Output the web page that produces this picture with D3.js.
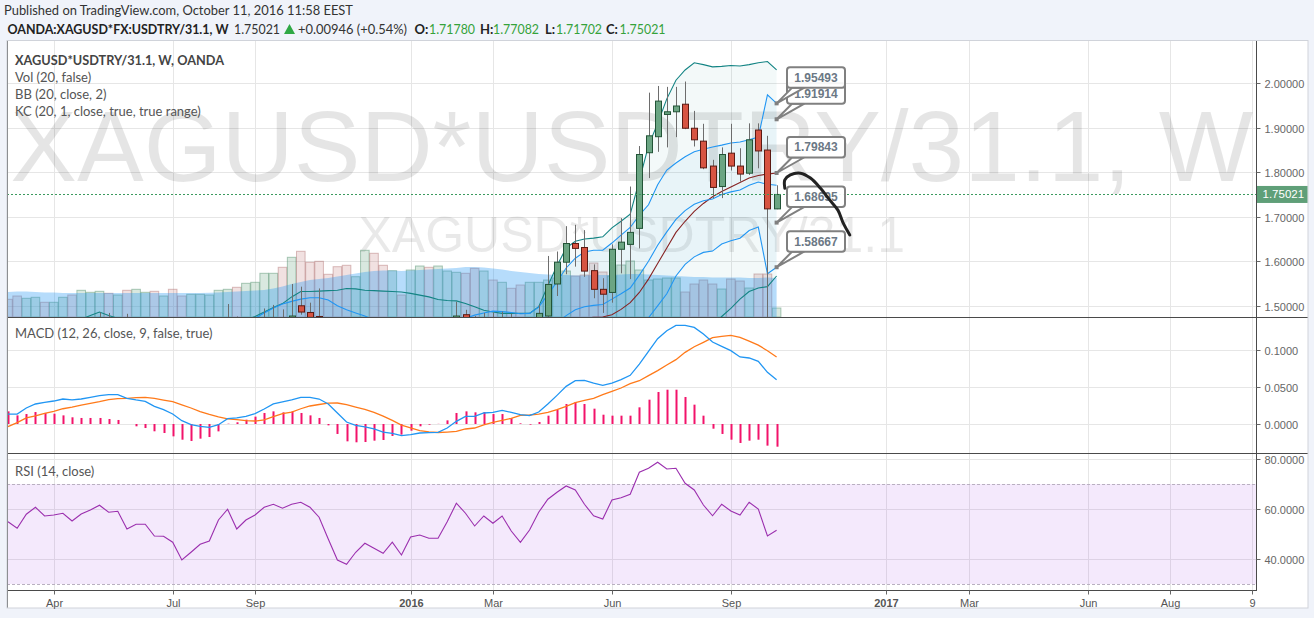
<!DOCTYPE html>
<html><head><meta charset="utf-8">
<script src="https://d3js.org/d3.v7.min.js"></script>
<style>
html,body{margin:0;padding:0;background:#f0f3fa;}
svg{display:block;}
</style></head>
<body>
<svg id="chart" width="1314" height="618"></svg>
<script>
// ---------------- DATA ----------------
const weeks = ["2015-03-02","2015-03-09","2015-03-16","2015-03-23","2015-03-30","2015-04-06","2015-04-13","2015-04-20","2015-04-27","2015-05-04",
"2015-05-11","2015-05-18","2015-05-25","2015-06-01","2015-06-08","2015-06-15","2015-06-22","2015-06-29","2015-07-06","2015-07-13",
"2015-07-20","2015-07-27","2015-08-03","2015-08-10","2015-08-17","2015-08-24","2015-08-31","2015-09-07","2015-09-14","2015-09-21",
"2015-09-28","2015-10-05","2015-10-12","2015-10-19","2015-10-26","2015-11-02","2015-11-09","2015-11-16","2015-11-23","2015-11-30",
"2015-12-07","2015-12-14","2015-12-21","2015-12-28","2016-01-04","2016-01-11","2016-01-18","2016-01-25","2016-02-01","2016-02-08",
"2016-02-15","2016-02-22","2016-02-29","2016-03-07","2016-03-14","2016-03-21","2016-03-28","2016-04-04","2016-04-11","2016-04-18",
"2016-04-25","2016-05-02","2016-05-09","2016-05-16","2016-05-23","2016-05-30","2016-06-06","2016-06-13","2016-06-20","2016-06-27",
"2016-07-04","2016-07-11","2016-07-18","2016-07-25","2016-08-01","2016-08-08","2016-08-15","2016-08-22","2016-08-29","2016-09-05",
"2016-09-12","2016-09-19","2016-09-26","2016-10-03","2016-10-10"];

const open = [1.43,1.42,1.41,1.435,1.45,1.44,1.442,1.446,1.435,1.447,
1.455,1.465,1.455,1.457,1.425,1.432,1.432,1.41,1.41,1.40,
1.36,1.37,1.385,1.39,1.43,1.455,1.42,1.435,1.445,1.46,
1.468,1.462,1.500,1.485,1.476,1.455,1.41,1.36,1.35,1.37,
1.385,1.378,1.37,1.385,1.365,1.39,1.393,1.385,1.39,1.43,
1.48,1.465,1.445,1.46,1.45,1.462,1.44,1.42,1.44,1.477,
1.549,1.598,1.640,1.631,1.579,1.537,1.530,1.627,1.638,1.674,
1.844,1.880,1.930,1.936,1.953,1.899,1.870,1.814,1.768,1.843,
1.814,1.798,1.895,1.850,1.7178];
const high = [1.44,1.43,1.445,1.46,1.455,1.455,1.46,1.455,1.46,1.47,
1.485,1.484,1.47,1.482,1.445,1.45,1.44,1.425,1.42,1.405,
1.38,1.39,1.40,1.44,1.504,1.476,1.45,1.46,1.494,1.502,
1.492,1.549,1.543,1.507,1.539,1.47,1.42,1.375,1.38,1.40,
1.395,1.39,1.39,1.39,1.40,1.40,1.40,1.40,1.44,1.509,
1.491,1.477,1.484,1.485,1.487,1.482,1.455,1.45,1.502,1.612,
1.622,1.679,1.682,1.670,1.593,1.562,1.638,1.697,1.768,1.859,
1.979,1.994,1.992,1.992,2.004,1.938,1.909,1.828,1.856,1.909,
1.854,1.910,1.910,1.882,1.77082];
const low = [1.40,1.39,1.405,1.43,1.43,1.43,1.435,1.425,1.43,1.44,
1.45,1.45,1.445,1.42,1.415,1.42,1.405,1.40,1.39,1.355,
1.35,1.36,1.37,1.385,1.425,1.41,1.41,1.425,1.44,1.45,
1.445,1.455,1.48,1.465,1.45,1.40,1.355,1.34,1.345,1.36,
1.37,1.36,1.365,1.36,1.36,1.38,1.38,1.38,1.385,1.425,
1.455,1.435,1.44,1.44,1.445,1.435,1.415,1.41,1.435,1.47,
1.522,1.571,1.588,1.565,1.517,1.484,1.507,1.573,1.560,1.629,
1.787,1.846,1.856,1.879,1.897,1.858,1.807,1.742,1.742,1.804,
1.779,1.794,1.809,1.30,1.71702];
const close = [1.42,1.41,1.435,1.45,1.44,1.442,1.446,1.435,1.447,1.455,
1.465,1.455,1.457,1.425,1.432,1.432,1.41,1.41,1.40,1.36,
1.37,1.385,1.39,1.43,1.455,1.42,1.435,1.445,1.46,1.468,
1.462,1.477,1.486,1.474,1.455,1.41,1.36,1.35,1.37,1.385,
1.378,1.37,1.385,1.365,1.39,1.393,1.389,1.389,1.43,1.477,
1.465,1.445,1.46,1.45,1.462,1.44,1.42,1.44,1.483,1.548,
1.598,1.640,1.629,1.578,1.537,1.526,1.627,1.643,1.665,1.840,
1.882,1.960,1.936,1.949,1.899,1.873,1.810,1.766,1.840,1.814,
1.796,1.873,1.848,1.7178,1.75021];
const volume = [17700,21000,18700,19700,14700,14700,19700,22000,26700,24700,
25700,23700,22000,26700,27700,24700,25700,21000,27700,21000,
22700,22700,22000,26700,27700,29700,33700,34700,43700,43700,
49700,59700,65700,54700,55700,42700,50300,51700,40300,66700,
63700,51700,46300,22000,47000,51000,49700,51000,46000,44700,
43700,48700,46000,37000,34700,28700,32000,34700,34700,37000,
39000,46000,41000,42000,54000,45000,41000,52000,56000,47000,
37000,38000,39000,39000,25000,33000,37000,33000,28000,38000,
36000,29000,43000,43000,9000];
const volMA = [25000,25500,25500,25000,24500,24500,24000,24000,24000,24000,
24000,24000,24000,24000,24000,24000,24000,24000,24000,24000,
24000,24000,24300,24500,25000,25500,26000,26500,27000,28500,
30500,33000,35000,37000,38000,39000,40500,42000,43500,45000,
46000,46500,46500,46000,46500,47000,47500,48000,48500,49000,
50000,50000,49500,48500,47500,46000,45000,44000,43000,42500,
42000,42000,41500,41500,42000,42000,42000,42500,43000,43000,
42500,42000,41500,41000,40500,40000,40000,39500,39500,39500,
39500,39000,39000,39500,39000];
const bbUpper = [1.46,1.458,1.46,1.465,1.466,1.466,1.468,1.468,1.47,1.478,
1.486,1.478,1.472,1.466,1.462,1.46,1.46,1.458,1.458,1.46,
1.462,1.462,1.462,1.462,1.466,1.466,1.468,1.476,1.486,1.496,
1.505,1.52,1.532,1.532,1.533,1.534,1.535,1.539,1.538,1.535,
1.534,1.533,1.532,1.531,1.528,1.524,1.52,1.514,1.512,1.511,
1.505,1.498,1.49,1.486,1.483,1.483,1.483,1.483,1.498,1.545,
1.59,1.63,1.645,1.65,1.652,1.655,1.675,1.69,1.706,1.782,
1.86,1.91,1.965,2.007,2.03,2.046,2.042,2.037,2.038,2.04,
2.039,2.042,2.046,2.049,2.03];
const bbBasis = [1.43,1.432,1.433,1.435,1.436,1.437,1.438,1.438,1.439,1.44,
1.442,1.443,1.443,1.441,1.44,1.439,1.437,1.435,1.432,1.427,
1.422,1.418,1.414,1.413,1.414,1.412,1.412,1.413,1.416,1.42,
1.425,1.431,1.437,1.441,1.444,1.443,1.44,1.435,1.43,1.427,
1.424,1.42,1.417,1.413,1.41,1.406,1.402,1.398,1.397,1.399,
1.403,1.406,1.41,1.414,1.418,1.421,1.423,1.426,1.432,1.44,
1.45,1.46,1.468,1.472,1.474,1.475,1.48,1.492,1.507,1.53,
1.56,1.595,1.63,1.665,1.69,1.712,1.73,1.745,1.757,1.767,
1.777,1.787,1.793,1.796,1.79843];
const bbLower = [1.40,1.406,1.406,1.405,1.406,1.408,1.408,1.408,1.408,1.402,
1.398,1.408,1.414,1.416,1.418,1.418,1.414,1.412,1.406,1.394,
1.382,1.374,1.366,1.364,1.362,1.358,1.356,1.35,1.346,1.344,
1.345,1.342,1.342,1.35,1.355,1.352,1.345,1.331,1.322,1.319,
1.314,1.307,1.302,1.295,1.292,1.288,1.284,1.282,1.282,1.287,
1.301,1.314,1.33,1.342,1.353,1.359,1.363,1.369,1.366,1.335,
1.31,1.29,1.291,1.294,1.296,1.295,1.285,1.294,1.308,1.278,
1.26,1.28,1.295,1.323,1.35,1.378,1.418,1.453,1.476,1.494,
1.515,1.532,1.54,1.543,1.567];
const kcUpper = [1.46,1.455,1.46,1.465,1.465,1.465,1.468,1.465,1.468,1.47,
1.474,1.472,1.47,1.465,1.462,1.46,1.455,1.452,1.448,1.44,
1.436,1.436,1.437,1.445,1.46,1.462,1.465,1.472,1.484,1.495,
1.504,1.51,1.515,1.518,1.518,1.513,1.50,1.491,1.484,1.477,
1.468,1.462,1.458,1.452,1.45,1.45,1.45,1.45,1.455,1.468,
1.472,1.479,1.484,1.488,1.487,1.485,1.482,1.483,1.497,1.525,
1.554,1.585,1.607,1.621,1.625,1.625,1.641,1.659,1.676,1.704,
1.727,1.772,1.805,1.821,1.835,1.846,1.852,1.857,1.861,1.866,
1.868,1.873,1.879,1.974,1.95493];
const kcMid = [1.415,1.415,1.417,1.42,1.422,1.424,1.426,1.427,1.429,1.431,
1.434,1.436,1.438,1.437,1.436,1.436,1.433,1.431,1.428,1.421,
1.416,1.413,1.411,1.413,1.417,1.418,1.42,1.423,1.427,1.432,
1.435,1.44,1.445,1.448,1.449,1.445,1.436,1.427,1.421,1.417,
1.413,1.409,1.407,1.403,1.402,1.402,1.401,1.40,1.404,1.412,
1.418,1.421,1.425,1.428,1.431,1.432,1.431,1.432,1.437,1.448,
1.462,1.478,1.491,1.498,1.501,1.503,1.515,1.527,1.54,1.569,
1.60,1.636,1.666,1.694,1.714,1.728,1.736,1.74,1.75,1.756,
1.76,1.771,1.778,1.773,1.7708];
const kcLower = [1.37,1.375,1.374,1.375,1.379,1.383,1.384,1.389,1.39,1.392,
1.394,1.40,1.406,1.409,1.41,1.412,1.411,1.41,1.408,1.402,
1.396,1.39,1.385,1.381,1.374,1.374,1.375,1.374,1.37,1.369,
1.366,1.37,1.375,1.378,1.38,1.377,1.372,1.363,1.358,1.357,
1.358,1.356,1.356,1.354,1.354,1.354,1.352,1.35,1.353,1.356,
1.364,1.363,1.366,1.368,1.375,1.379,1.38,1.381,1.377,1.371,
1.37,1.371,1.375,1.375,1.377,1.381,1.389,1.395,1.404,1.434,
1.473,1.50,1.527,1.567,1.593,1.61,1.62,1.623,1.639,1.646,
1.652,1.669,1.677,1.572,1.58667];
const macd = [0.0134,0.0134,0.0215,0.0269,0.0291,0.0309,0.0336,0.0323,0.0336,0.0358,
0.0381,0.0394,0.0394,0.0345,0.0323,0.0305,0.0237,0.0193,0.0134,0.0045,
-0.0009,-0.0031,-0.0045,-0.0009,0.0072,0.0081,0.0103,0.0139,0.0202,0.0269,
0.0296,0.0323,0.0358,0.0358,0.0336,0.0269,0.0148,0.0027,-0.0018,-0.0040,
-0.0067,-0.0108,-0.0125,-0.0157,-0.0143,-0.0121,-0.0116,-0.0112,-0.0054,0.0036,
0.0103,0.0103,0.0148,0.0157,0.0184,0.0157,0.0125,0.0112,0.0161,0.0269,
0.0385,0.0506,0.0582,0.0587,0.0551,0.0520,0.0551,0.0596,0.0654,0.0806,
0.0977,0.1147,0.1254,0.1326,0.1326,0.1299,0.1210,0.1102,0.1044,0.0986,
0.0901,0.0887,0.0842,0.0694,0.0596];
const signal = [-0.0036,0.0018,0.0081,0.0108,0.0143,0.0170,0.0205,0.0228,0.0255,0.0277,
0.0300,0.0327,0.0340,0.0345,0.0354,0.0359,0.0345,0.0322,0.0300,0.0258,
0.0215,0.0166,0.0128,0.0095,0.0068,0.0058,0.0045,0.0040,0.0054,0.0099,
0.0139,0.0160,0.0205,0.0242,0.0262,0.0280,0.0282,0.0260,0.0228,0.0198,
0.0157,0.0107,0.0048,-0.0014,-0.0053,-0.0090,-0.0107,-0.0114,-0.0108,-0.0100,
-0.0067,-0.0054,-0.0013,0.0023,0.0050,0.0076,0.0116,0.0121,0.0134,0.0157,
0.0192,0.0237,0.0286,0.0318,0.0345,0.0395,0.0439,0.0484,0.0542,0.0582,
0.0650,0.0717,0.0793,0.0865,0.0963,0.1039,0.1098,0.1160,0.1178,0.1190,
0.1165,0.1115,0.1060,0.0985,0.0901];
const hist = [0.0170,0.0116,0.0134,0.0161,0.0148,0.0139,0.0116,0.0090,0.0081,0.0081,
0.0081,0.0067,0.0054,0.0000,-0.0031,-0.0054,-0.0098,-0.0121,-0.0166,-0.0211,
-0.0228,-0.0197,-0.0175,-0.0099,0.0004,0.0023,0.0058,0.0099,0.0148,0.0170,
0.0157,0.0170,0.0148,0.0116,0.0081,-0.0018,-0.0134,-0.0233,-0.0246,-0.0242,
-0.0224,-0.0215,-0.0161,-0.0143,-0.0090,-0.0031,-0.0009,0.0002,0.0049,0.0148,
0.0170,0.0157,0.0161,0.0134,0.0134,0.0081,0.0009,-0.0009,0.0027,0.0112,
0.0193,0.0269,0.0296,0.0269,0.0206,0.0125,0.0112,0.0112,0.0112,0.0224,
0.0327,0.0430,0.0461,0.0461,0.0363,0.0260,0.0112,-0.0063,-0.0134,-0.0211,
-0.0255,-0.0224,-0.0211,-0.0291,-0.0305];
const rsi = [54.9,52.3,57.9,60.7,57.2,57.6,58.3,55.2,58,59.6,
61.5,58.7,59.1,52,53.9,53.9,49.2,49.1,46.7,39.6,
42.7,45.9,47.2,55.6,59.9,52,55.6,57.6,60.7,61.9,
60.3,61.9,62.7,60.7,56.7,48,39.6,37.9,42.7,46.3,
44.3,42.3,46.7,41.6,48.8,49.6,48.3,48.3,54.9,62.3,
58.3,53.2,57.2,54.3,57.2,51.2,46.7,51.6,58.7,63.9,
66.7,69.2,67.6,61.9,57.3,56,63.6,64.5,65.9,74.7,
76.3,78.7,76,76.3,70.3,67.6,61.6,57.3,61.9,59.2,
57.6,62.7,60,49.2,51.5];

const xTickIdx = [5,18,27,44,53,66,79,96,105,118,127,136];
const xTickLabels = ["Apr","Jul","Sep","2016","Mar","Jun","Sep","2017","Mar","Jun","Aug","9"];
const priceTicks = [1.5,1.6,1.7,1.8,1.9,2.0];
const macdTicks = [0,0.05,0.1];
const rsiTicks = [40,60,80];
const lastPrice = 1.75021;
const calloutValues = [1.58667,1.68695,1.79843,1.91914,1.95493];
const brushIdx = [84.9,84.9,85.5,86.6,87.7,88.8,89.8,90.7,91.3,92.0];
const brushPrice = [1.764,1.783,1.794,1.798,1.787,1.764,1.738,1.715,1.685,1.659];

// ---------------- LAYOUT ----------------
const svg = d3.select("#chart");
const AXF = "'Liberation Sans', Arial, sans-serif";
const UIF = "Lato, 'Open Sans', sans-serif";
const PL = 7, PR = 1256.5, AR = 1308;
const T0 = 40.5, B0 = 317.5, T1 = 317.5, B1 = 453.5, T2 = 453.5, B2 = 590.5, TB = 608;
const n = close.length;

const x = d3.scaleLinear().domain([0, n - 1]).range([8, 776.6]);
const y = d3.scaleLinear().domain([1.5, 2.0]).range([305.8, 83.3]);
const yV = d3.scaleLinear().domain([0, 100000]).range([317, 217]);
const yM = d3.scaleLinear().domain([0, 0.1]).range([424, 349.6]);
const yR = d3.scaleLinear().domain([40, 60]).range([559, 509]);

const defs = svg.append("defs");
function clip(id, y0, y1) {
  defs.append("clipPath").attr("id", id).append("rect")
    .attr("x", PL).attr("y", y0).attr("width", PR - PL).attr("height", y1 - y0);
}
clip("cMain", T0, B0); clip("cMacd", T1, B1); clip("cRsi", T2, B2);

// chart background
svg.append("rect").attr("x", PL).attr("y", T0).attr("width", AR - PL).attr("height", TB - T0).attr("fill", "#ffffff");

// header
const hdr = svg.append("g").attr("font-family", UIF).attr("font-size", 13).attr("fill", "#333");
hdr.append("text").attr("x", 4).attr("y", 15).attr("textLength", 349).attr("lengthAdjust", "spacingAndGlyphs")
  .text("Published on TradingView.com, October 11, 2016 11:58 EEST");
hdr.append("text").attr("x", 7.5).attr("y", 34).attr("font-weight", "bold").attr("fill", "#222")
  .attr("textLength", 221).attr("lengthAdjust", "spacingAndGlyphs").text("OANDA:XAGUSD*FX:USDTRY/31.1, W");
hdr.append("text").attr("x", 234).attr("y", 34).attr("textLength", 46).attr("lengthAdjust", "spacingAndGlyphs").text(d3.format(".5f")(lastPrice));
hdr.append("path").attr("d", "M284,34 L295,34 L289.5,24 Z").attr("fill", "#2fa845");
hdr.append("text").attr("x", 298).attr("y", 34).attr("textLength", 109).attr("lengthAdjust", "spacingAndGlyphs").text("+0.00946 (+0.54%)");
const ohlcLbl = [["O:", 414.6, 429, open[n-1]], ["H:", 480, 493, high[n-1]], ["L:", 545, 556, low[n-1]], ["C:", 606, 619.5, close[n-1]]];
ohlcLbl.forEach(([k, xk, xv, v]) => {
  hdr.append("text").attr("x", xk).attr("y", 34).attr("font-weight", "bold").attr("fill", "#222").text(k);
  hdr.append("text").attr("x", xv).attr("y", 34).attr("fill", "#35a23a")
    .attr("textLength", 46).attr("lengthAdjust", "spacingAndGlyphs").text(d3.format(".5f")(v));
});

// grid
const grid = svg.append("g").attr("stroke", "#e6e6e6").attr("stroke-width", 1).attr("shape-rendering", "crispEdges");
xTickIdx.forEach(i => {
  const xx = Math.round(x(i)) + 0.5;
  if (xx < PR) grid.append("line").attr("x1", xx).attr("x2", xx).attr("y1", T0).attr("y2", B2);
});
priceTicks.forEach(v => grid.append("line").attr("x1", PL).attr("x2", PR).attr("y1", Math.round(y(v)) + 0.5).attr("y2", Math.round(y(v)) + 0.5));
macdTicks.forEach(v => grid.append("line").attr("x1", PL).attr("x2", PR).attr("y1", Math.round(yM(v)) + 0.5).attr("y2", Math.round(yM(v)) + 0.5));
rsiTicks.forEach(v => grid.append("line").attr("x1", PL).attr("x2", PR).attr("y1", Math.round(yR(v)) + 0.5).attr("y2", Math.round(yR(v)) + 0.5));

// watermark
const wm = svg.append("g").attr("clip-path", "url(#cMain)").attr("font-family", AXF).attr("text-anchor", "middle");
wm.append("text").attr("x", (PL + PR) / 2).attr("y", 181).attr("font-size", 100).attr("fill", "rgba(0,0,0,0.1)").text("XAGUSD*USDTRY/31.1, W");
wm.append("text").attr("x", (PL + PR) / 2).attr("y", 252).attr("font-size", 50).attr("fill", "rgba(0,0,0,0.085)").text("XAGUSD*USDTRY/31.1");

// ---------- main pane ----------
const gM = svg.append("g").attr("clip-path", "url(#cMain)");
const up = i => close[i] >= open[i];
// volume
gM.append("g").selectAll("rect").data(volume).join("rect")
  .attr("x", (d, i) => x(i) - 4.3).attr("width", 8.6)
  .attr("y", d => yV(d)).attr("height", d => yV(0) - yV(d))
  .attr("fill", (d, i) => up(i) ? "rgba(107,165,131,0.26)" : "rgba(186,104,104,0.2)")
  .attr("stroke", (d, i) => up(i) ? "rgba(90,150,115,0.5)" : "rgba(170,100,100,0.42)")
  .attr("stroke-width", 1);
gM.append("path").datum(volMA)
  .attr("d", d3.area().x((d, i) => x(i)).y0(yV(0)).y1(d => yV(d)))
  .attr("fill", "rgba(33,150,243,0.33)");

// band fills
const bandArea = (lo, hi) => d3.area().x((d, i) => x(i)).y0((d, i) => y(lo[i])).y1((d, i) => y(hi[i]));
gM.append("path").datum(close).attr("d", bandArea(bbLower, bbUpper)).attr("fill", "rgba(19,132,132,0.05)");
gM.append("path").datum(close).attr("d", bandArea(kcLower, kcUpper)).attr("fill", "rgba(33,150,243,0.05)");
const lineOf = arr => d3.line().x((d, i) => x(i)).y(d => y(d))(arr);
[[bbUpper, "#138484"], [bbLower, "#138484"], [bbBasis, "#872323"],
 [kcUpper, "#2196f3"], [kcMid, "#2196f3"], [kcLower, "#2196f3"]].forEach(([a, c]) =>
  gM.append("path").attr("d", lineOf(a)).attr("fill", "none").attr("stroke", c).attr("stroke-width", 1.1));

// candles
const cg = gM.append("g");
cg.selectAll("line").data(close).join("line")
  .attr("x1", (d, i) => Math.round(x(i)) + 0.5).attr("x2", (d, i) => Math.round(x(i)) + 0.5)
  .attr("y1", (d, i) => y(high[i])).attr("y2", (d, i) => y(low[i]))
  .attr("stroke", "#6d6d6d").attr("stroke-width", 1);
cg.selectAll("rect").data(close).join("rect")
  .attr("x", (d, i) => Math.round(x(i)) - 2.5).attr("width", 6)
  .attr("y", (d, i) => y(Math.max(open[i], close[i])))
  .attr("height", (d, i) => Math.max(1, Math.abs(y(open[i]) - y(close[i]))))
  .attr("fill", (d, i) => up(i) ? "#6ba583" : "#d75442")
  .attr("stroke", (d, i) => up(i) ? "#225437" : "#5b1a13").attr("stroke-width", 1);

// last price line
svg.append("line").attr("x1", PL).attr("x2", PR)
  .attr("y1", Math.round(y(lastPrice)) + 0.5).attr("y2", Math.round(y(lastPrice)) + 0.5)
  .attr("stroke", "#3c9a5f").attr("stroke-dasharray", "2,2").attr("stroke-width", 1);

// legend
const lg = svg.append("g").attr("font-family", UIF).attr("font-size", 13).attr("fill", "#555");
lg.append("text").attr("x", 15).attr("y", 65).attr("font-weight", "bold").attr("fill", "#444")
  .attr("textLength", 209).attr("lengthAdjust", "spacingAndGlyphs").text("XAGUSD*USDTRY/31.1, W, OANDA");
lg.append("text").attr("x", 15).attr("y", 82).text("Vol (20, false)");
lg.append("text").attr("x", 15).attr("y", 99).text("BB (20, close, 2)");
lg.append("text").attr("x", 15).attr("y", 116).text("KC (20, 1, close, true, true range)");

// callouts
const ax = x(n - 1);
const cl = svg.append("g");
calloutValues.forEach(v => {
  const ay = y(v), bx = 787, bh = 20.5, by = ay - 15.5 - bh, bw = 58;
  cl.append("path").attr("d", `M${bx + 5},${by + bh} L${ax},${ay} L${bx + 17},${by + bh} Z`)
    .attr("fill", "#fff").attr("stroke", "#808080").attr("stroke-width", 2).attr("stroke-linejoin", "round");
  cl.append("rect").attr("x", ax - 2).attr("y", ay - 2).attr("width", 4).attr("height", 4).attr("fill", "#808080");
  cl.append("rect").attr("x", bx).attr("y", by).attr("width", bw).attr("height", bh).attr("rx", 3)
    .attr("fill", "rgba(255,255,255,0.92)").attr("stroke", "#808080").attr("stroke-width", 2);
  cl.append("text").attr("x", bx + bw / 2).attr("y", by + 14.5).attr("text-anchor", "middle")
    .attr("font-family", AXF).attr("font-size", 12).attr("font-weight", "bold").attr("fill", "#6b7885")
    .text(d3.format(".5f")(v));
});
// brush stroke
svg.append("path").datum(brushIdx)
  .attr("d", d3.line().curve(d3.curveCatmullRom).x(d => x(d)).y((d, i) => y(brushPrice[i])))
  .attr("fill", "none").attr("stroke", "#222").attr("stroke-width", 3).attr("stroke-linecap", "round").attr("stroke-linejoin", "round");

// ---------- MACD pane ----------
const gD = svg.append("g").attr("clip-path", "url(#cMacd)");
gD.selectAll("rect").data(hist).join("rect")
  .attr("x", (d, i) => Math.round(x(i)) - 0.5).attr("width", 2)
  .attr("y", d => Math.min(yM(0), yM(d))).attr("height", d => Math.abs(yM(d) - yM(0)))
  .attr("fill", "#f2136a");
const mLine = d3.line().x((d, i) => x(i)).y(d => yM(d));
gD.append("path").attr("d", mLine(signal)).attr("fill", "none").attr("stroke", "#ff7a1a").attr("stroke-width", 1.3);
gD.append("path").attr("d", mLine(macd)).attr("fill", "none").attr("stroke", "#2196f3").attr("stroke-width", 1.3);
svg.append("text").attr("x", 15).attr("y", 338).attr("font-family", UIF).attr("font-size", 13).attr("fill", "#555").text("MACD (12, 26, close, 9, false, true)");

// ---------- RSI pane ----------
const gR = svg.append("g").attr("clip-path", "url(#cRsi)");
gR.append("rect").attr("x", PL).attr("width", PR - PL).attr("y", yR(70)).attr("height", yR(30) - yR(70)).attr("fill", "rgba(150,40,230,0.1)");
[70, 30].forEach(v => gR.append("line").attr("x1", PL).attr("x2", PR).attr("y1", Math.round(yR(v)) + 0.5).attr("y2", Math.round(yR(v)) + 0.5)
  .attr("stroke", "#b9b0c0").attr("stroke-dasharray", "3,2"));
gR.append("path").attr("d", d3.line().x((d, i) => x(i)).y(d => yR(d))(rsi)).attr("fill", "none").attr("stroke", "#9b2fae").attr("stroke-width", 1.1);
svg.append("text").attr("x", 15).attr("y", 476).attr("font-family", UIF).attr("font-size", 13).attr("fill", "#555").text("RSI (14, close)");

// ---------- frame & axes ----------
const fr = svg.append("g").attr("stroke", "#4a4a4a").attr("stroke-width", 1).attr("shape-rendering", "crispEdges");
fr.append("line").attr("x1", PL).attr("x2", PL).attr("y1", T0).attr("y2", TB);
fr.append("line").attr("x1", PR).attr("x2", PR).attr("y1", T0).attr("y2", B2);
fr.append("line").attr("x1", PL).attr("x2", AR).attr("y1", B0).attr("y2", B0);
fr.append("line").attr("x1", PL).attr("x2", AR).attr("y1", B1).attr("y2", B1);
fr.append("line").attr("x1", PL).attr("x2", PR).attr("y1", B2).attr("y2", B2);
svg.append("rect").attr("x", PL).attr("y", T0).attr("width", AR - PL).attr("height", TB - T0)
  .attr("fill", "none").attr("stroke", "#d0d3da").attr("stroke-width", 1);

function rightAxis(scale, ticks, fmt) {
  const g = svg.append("g").attr("font-family", AXF).attr("font-size", 11).attr("fill", "#666");
  ticks.forEach(v => {
    const yy = Math.round(scale(v)) + 0.5;
    g.append("line").attr("x1", PR).attr("x2", PR + 4).attr("y1", yy).attr("y2", yy).attr("stroke", "#666");
    g.append("text").attr("x", PR + 8).attr("y", yy + 4).text(fmt(v));
  });
}
rightAxis(y, priceTicks, d3.format(".5f"));
rightAxis(yM, macdTicks, d3.format(".4f"));
rightAxis(yR, rsiTicks, d3.format(".4f"));

// last price label
const ly = y(lastPrice);
svg.append("rect").attr("x", PR + 0.5).attr("y", ly - 8.5).attr("width", AR - PR - 1).attr("height", 17).attr("fill", "#5f9f78");
svg.append("text").attr("x", PR + 6).attr("y", ly + 4).attr("font-family", AXF).attr("font-size", 11.5).attr("fill", "#fff").text(d3.format(".5f")(lastPrice));

// time axis
const tg = svg.append("g").attr("font-family", AXF).attr("font-size", 11).attr("fill", "#555").attr("text-anchor", "middle");
xTickIdx.forEach((i, k) => {
  const xx = Math.round(x(i)) + 0.5;
  tg.append("line").attr("x1", xx).attr("x2", xx).attr("y1", B2).attr("y2", B2 + 4).attr("stroke", "#666");
  tg.append("text").attr("x", xx).attr("y", 607)
    .attr("font-weight", /^\d{4}$/.test(xTickLabels[k]) ? "bold" : "normal").text(xTickLabels[k]);
});
</script>
</body></html>
